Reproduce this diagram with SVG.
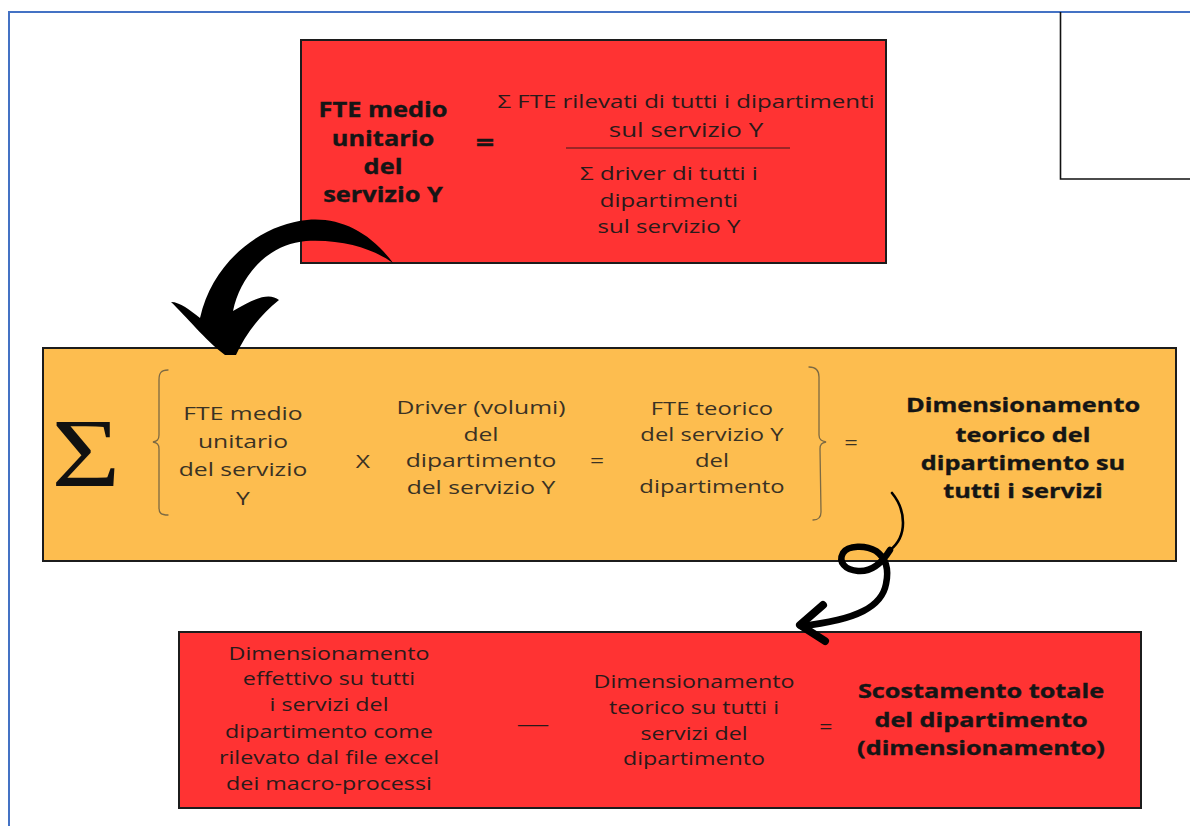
<svg xmlns="http://www.w3.org/2000/svg" width="1190" height="826" viewBox="0 0 1190 826">
<style>
.box{stroke:#1c1c1c;stroke-width:2}
.red{fill:#FF3333}
.orange{fill:#FDBD4F}
text{font-family:"Open Sans","Noto Sans",sans-serif;text-anchor:middle}
text.sig{font-family:"Liberation Serif","DejaVu Serif",serif}
.b{font-weight:700;fill:#151515;stroke:#151515;stroke-width:0.35}
.r{font-weight:400;fill:#2a1a1a}
.m{font-weight:400;fill:#3a3224}
.brace{fill:none;stroke:#7d6a43;stroke-width:1.3;stroke-linecap:round}
</style>
<rect width="1190" height="826" fill="#ffffff"/>
<g id="frame" fill="none">
  <path d="M9,826 V12 H1190" stroke="#4472C4" stroke-width="2"/>
  <path d="M1060.5,12 V179 H1190" stroke="#111" stroke-width="1.6"/>
</g>

<g id="node-top">
  <rect class="box red" x="301" y="40" width="585" height="223"/>
  <g transform="translate(383,0) scale(1.24,1)" font-size="20.5">
    <text class="b" x="0" y="117">FTE medio</text>
    <text class="b" x="0" y="146">unitario</text>
    <text class="b" x="0" y="174">del</text>
    <text class="b" x="0" y="202">servizio Y</text>
  </g>
  <g transform="translate(485,0) scale(1.35,1)">
    <text class="b" x="0" y="151" font-size="24">=</text>
  </g>
  <g transform="translate(686,0) scale(1.3,1)">
    <text class="r" x="0" y="108" font-size="18.5">Σ FTE rilevati di tutti i dipartimenti</text>
    <text class="r" x="0" y="137" font-size="20">sul servizio Y</text>
  </g>
  <line x1="566" y1="148" x2="790" y2="148" stroke="#3a1a1a" stroke-width="1"/>
  <g transform="translate(669,0) scale(1.3,1)">
    <text class="r" x="0" y="180" font-size="18.5">Σ driver di tutti i</text>
    <text class="r" x="0" y="207" font-size="18.5">dipartimenti</text>
    <text class="r" x="0" y="233" font-size="18.5">sul servizio Y</text>
  </g>
</g>

<g id="node-middle">
  <rect class="box orange" x="43" y="348" width="1133" height="213"/>
  <text class="sig" x="0" y="0" transform="translate(86,486) scale(1.22,1)" font-size="97" fill="#111">Σ</text>
  <path class="brace" d="M168,370 C161,370 159,373 159,380 L159,435 C159,440 157,441 153,442 C157,443 159,444 159,449 L159,508 C159,513 161,515 168,515"/>
  <path class="brace" d="M809,367 C816,367 819,370 819,377 L819,435 C819,440 822,441 826,442 C822,443 820,444 820,449 L821,512 C821,517 819,520 813,520"/>
  <g transform="translate(243,0) scale(1.3,1)" font-size="19">
    <text class="m" x="0" y="420">FTE medio</text>
    <text class="m" x="0" y="448">unitario</text>
    <text class="m" x="0" y="476">del servizio</text>
    <text class="m" x="0" y="505">Y</text>
  </g>
  <g transform="translate(363,0) scale(1.3,1)" font-size="19">
    <text class="m" x="0" y="468">X</text>
  </g>
  <g transform="translate(481,0) scale(1.3,1)" font-size="19">
    <text class="m" x="0" y="414">Driver (volumi)</text>
    <text class="m" x="0" y="441">del</text>
    <text class="m" x="0" y="467">dipartimento</text>
    <text class="m" x="0" y="494">del servizio Y</text>
  </g>
  <g transform="translate(597,0) scale(1.3,1)" font-size="19">
    <text class="m" x="0" y="467">=</text>
  </g>
  <g transform="translate(712,0) scale(1.3,1)" font-size="18.3">
    <text class="m" x="0" y="415">FTE teorico</text>
    <text class="m" x="0" y="441">del servizio Y</text>
    <text class="m" x="0" y="467">del</text>
    <text class="m" x="0" y="493">dipartimento</text>
  </g>
  <g transform="translate(851,0) scale(1.3,1)" font-size="18.3">
    <text class="m" x="0" y="449">=</text>
  </g>
  <g transform="translate(1023,0) scale(1.28,1)" font-size="19.8">
    <text class="b" x="0" y="412">Dimensionamento</text>
    <text class="b" x="0" y="442">teorico del</text>
    <text class="b" x="0" y="470">dipartimento su</text>
    <text class="b" x="0" y="498">tutti i servizi</text>
  </g>
</g>

<g id="node-bottom">
  <rect class="box red" x="179" y="632" width="962" height="176"/>
  <g transform="translate(329,0) scale(1.3,1)" font-size="17.9">
    <text class="r" x="0" y="660">Dimensionamento</text>
    <text class="r" x="0" y="685">effettivo su tutti</text>
    <text class="r" x="0" y="711">i servizi del</text>
    <text class="r" x="0" y="738">dipartimento come</text>
    <text class="r" x="0" y="764">rilevato dal file excel</text>
    <text class="r" x="0" y="790">dei macro-processi</text>
  </g>
  <text class="r" x="533" y="731" font-size="18" textLength="33" lengthAdjust="spacingAndGlyphs">—</text>
  <g transform="translate(694,0) scale(1.3,1)" font-size="17.9">
    <text class="r" x="0" y="688">Dimensionamento</text>
    <text class="r" x="0" y="714">teorico su tutti i</text>
    <text class="r" x="0" y="740">servizi del</text>
    <text class="r" x="0" y="765">dipartimento</text>
  </g>
  <g transform="translate(826,0) scale(1.3,1)" font-size="17.9">
    <text class="r" x="0" y="733">=</text>
  </g>
  <g transform="translate(981,0) scale(1.33,1)" font-size="19">
    <text class="b" x="0" y="698">Scostamento totale</text>
    <text class="b" x="0" y="727">del dipartimento</text>
    <text class="b" x="0" y="755">(dimensionamento)</text>
  </g>
</g>

<g id="connectors">
  <path d="M393,263 C370,232 340,217 307,220 C263,224 213,260 200,318 C190,310 180,302 171,302 C185,315 205,340 225,355 L236,355 C245,335 260,315 279,300 C270,293 258,296 233,311 C241,273 270,244 306,241 C345,239 375,250 393,263 Z" fill="#000"/>
  <path d="M892,493 C906,510 908,536 890,550" fill="none" stroke="#000" stroke-width="2.6" stroke-linecap="round"/>
  <path d="M890,550 C880,566 870,572 858,571 C845,570 838,562 843,553 C848,545 866,545 876,551 C886,558 889,570 886,584 C882,606 858,620 801,626" fill="none" stroke="#000" stroke-width="6.5" stroke-linecap="round" stroke-linejoin="round"/>
  <path d="M823,605 L800,625 L825,641" fill="none" stroke="#000" stroke-width="8" stroke-linecap="round" stroke-linejoin="round"/>
</g>
</svg>
